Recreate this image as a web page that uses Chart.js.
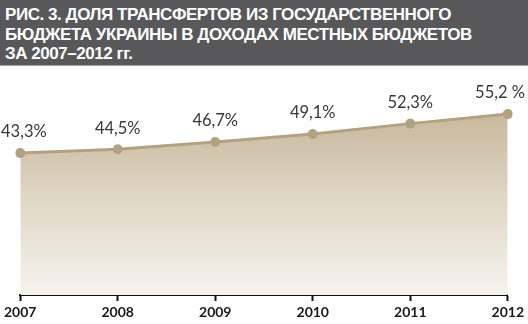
<!DOCTYPE html>
<html>
<head>
<meta charset="utf-8">
<script src="https://cdn.jsdelivr.net/npm/chart.js@4.4.1/dist/chart.umd.min.js"></script>
<style>
    html, body { margin: 0; padding: 0; background: #ffffff; }
    body { width: 528px; height: 324px; overflow: hidden; }
    .header {
        height: 66px;
        background: #58585a;
        border-bottom: 1px solid #a3a3a3;
        box-sizing: border-box;
        padding: 5px 0 0 5px;
        color: #ffffff;
        font-family: "Liberation Sans", Arial, sans-serif;
        font-weight: bold;
        font-size: 17px;
        letter-spacing: -0.45px;
        line-height: 19.5px;
    }
    .chart-box { position: relative; width: 528px; height: 257px; }
</style>
</head>
<body>
<div class="header">РИС. 3. ДОЛЯ ТРАНСФЕРТОВ ИЗ ГОСУДАРСТВЕННОГО<br>БЮДЖЕТА УКРАИНЫ В ДОХОДАХ МЕСТНЫХ БЮДЖЕТОВ<br>ЗА 2007–2012 гг.</div>
<div class="chart-box"><canvas id="transfersChart"></canvas></div>
<script>
// Годы и доля трансфертов (%)
const years = ['2007', '2008', '2009', '2010', '2011', '2012'];
const shares = [43.3, 44.5, 46.7, 49.1, 52.3, 55.2];
const shareLabels = ['43,3%', '44,5%', '46,7%', '49,1%', '52,3%', '55,2 %'];

// Подписи значений над точками
const valueLabels = {
    id: 'valueLabels',
    afterDatasetsDraw(chart) {
        const ctx = chart.ctx;
        const meta = chart.getDatasetMeta(0);
        ctx.save();
        ctx.font = '16.5px Lato, "Open Sans", sans-serif';
        ctx.fillStyle = '#383838';
        ctx.textBaseline = 'middle';
        ctx.textAlign = 'center';
        meta.data.forEach((pt, i) => {
            const text = shareLabels[i];
            const w = ctx.measureText(text).width;
            let x = pt.x;
            if (x - w / 2 < 1) x = 1 + w / 2;
            if (x + w / 2 > chart.width - 3) x = chart.width - 3 - w / 2;
            ctx.fillText(text, x, pt.y - 21);
        });
        ctx.restore();
    }
};

const ctx = document.getElementById('transfersChart');
new Chart(ctx, {
    type: 'line',
    data: {
        labels: years,
        datasets: [{
            data: shares,
            borderColor: '#b3a184',
            borderWidth: 3,
            pointRadius: 5,
            pointHoverRadius: 5,
            pointBackgroundColor: '#b3a184',
            pointBorderWidth: 0,
            tension: 0,
            fill: 'origin',
            backgroundColor: function(context) {
                const area = context.chart.chartArea;
                if (!area) return '#e0d6c4';
                const yTop = context.chart.scales.y.getPixelForValue(55);
                const g = context.chart.ctx.createLinearGradient(0, yTop, 0, area.bottom);
                g.addColorStop(0, '#c9b99e');
                g.addColorStop(0.55, '#e3dccc');
                g.addColorStop(1, '#f6f3ee');
                return g;
            }
        }]
    },
    options: {
        responsive: true,
        maintainAspectRatio: false,
        animation: false,
        layout: { padding: { left: 16, right: 17, top: 16, bottom: 0 } },
        plugins: {
            legend: { display: false },
            tooltip: { enabled: false }
        },
        scales: {
            x: {
                offset: false,
                grid: {
                    drawOnChartArea: false,
                    drawTicks: true,
                    tickLength: 6,
                    tickWidth: 2,
                    tickColor: '#111111'
                },
                border: { color: '#111111', width: 2 },
                ticks: {
                    color: '#1a1a1a',
                    padding: 4,
                    maxRotation: 0,
                    font: { family: 'Lato, sans-serif', weight: 'bold', size: 14, lineHeight: 1 }
                }
            },
            y: {
                display: false,
                min: 0,
                max: 65
            }
        }
    },
    plugins: [valueLabels]
});
</script>
</body>
</html>
